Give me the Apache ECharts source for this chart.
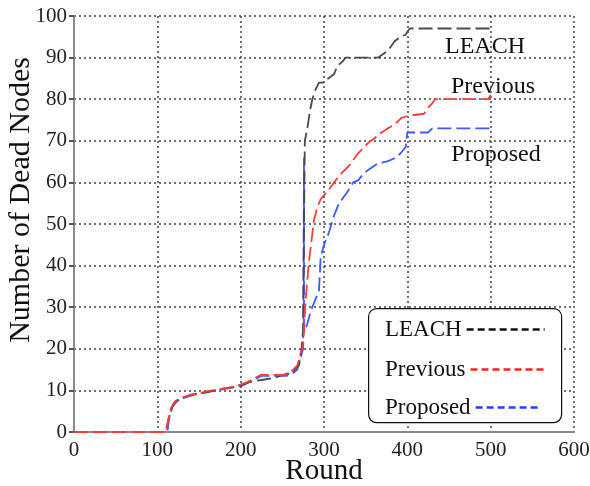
<!DOCTYPE html>
<html><head><meta charset="utf-8">
<script src="https://cdn.jsdelivr.net/npm/echarts@6/dist/echarts.min.js"></script>
<style>html,body{margin:0;padding:0;background:#fff}#c{width:590px;height:486px}</style>
</head><body><div id="c"></div>
<script>
var seriesNames = ['LEACH', 'Previous', 'Proposed'];
var xTicks = [0, 100, 200, 300, 400, 500, 600];
var yTicks = [0, 10, 20, 30, 40, 50, 60, 70, 80, 90, 100];
var leach = [[0,0],[110,0],[112,2],[116,5],[120,7],[128,8],[140,9],[160,9.6],[180,10.5],[200,11],[210,12],[225,12.5],[240,13],[255,14],[262,14],[265,15],[270,16],[273,20],[275,25],[276,50],[277,70],[280,73],[283,77],[286,80],[289,82],[294,84],[300,84],[305,85],[312,86],[316,88],[322,89],[326,90],[365,90],[372,91],[378,92],[385,94],[392,95],[398,95.5],[401,96.5],[403,97],[500,97]];
var previous = [[0,0],[111,0],[113,3],[117,6],[122,7.5],[130,8.3],[143,9],[160,9.8],[185,10.6],[198,11.3],[208,12],[224,13.7],[252,13.7],[258,14],[263,15],[268,16],[272,19],[275,21],[278,32],[282,41],[285,46],[288,51],[292,54],[296,56],[305,58],[312,60],[320,62],[330,64],[341,67],[353,69.5],[360,70.5],[369,72],[377,73],[385,74],[393,75.5],[401,76],[420,76.5],[425,78],[430,79],[433,80],[497,80],[500,81]];
var proposed = [[0,0],[112,0],[114,3],[118,6],[124,7.5],[132,8.2],[145,9],[160,9.6],[185,10.5],[200,11.2],[210,12],[225,13.5],[255,13.5],[262,14],[268,15],[272,18],[275,20],[276,20],[276,66],[276,24],[280,26],[284,29],[290,32],[294,34],[296,42],[300,45],[306,48],[312,52],[318,55],[322,56],[329,58],[335,60],[341,60.5],[347,62],[353,63],[365,64.6],[375,65],[385,65.8],[392,67],[398,68.5],[400,68.5],[400,72],[425,72],[430,73],[500,73]];
var colors = ['#4a4a4a', '#ff3c3c', '#3c5aff'];
var font = 'Liberation Serif';

var chart = echarts.init(document.getElementById('c'), null, {renderer: 'canvas'});
function mkSeries(name, data, color, z) {
  return {name: name, type: 'line', data: data, showSymbol: false, symbol: 'none', z: z,
    lineStyle: {color: color, width: 1.8, type: [14, 5]}, itemStyle: {color: color}};
}
function mkLegend(name, top, iw, lc) {
  return {data: [name], left: 380, top: top, align: 'right', itemWidth: iw, itemHeight: 14, itemGap: 0,
    z: 10, textStyle: {fontFamily: font, fontSize: 23, color: '#111'},
    itemStyle: {opacity: 0},
    lineStyle: {width: 2.5, type: [7, 4], color: lc}};
}
var option = {
  animation: false,
  color: colors,
  grid: {left: 74, right: 16, top: 16, bottom: 54, show: false, outerBoundsMode: 'none', containLabel: false},
  xAxis: [{
    type: 'value', min: 0, max: 600, interval: 100, position: 'bottom',
    name: 'Round', nameLocation: 'middle', nameGap: 25, nameMoveOverlap: false,
    nameTextStyle: {fontFamily: font, fontSize: 29, color: '#111'},
    axisLine: {show: true, lineStyle: {color: '#8a8a8a', width: 2}},
    axisTick: {show: false},
    axisLabel: {fontFamily: font, fontSize: 21, color: '#222', margin: 8},
    splitLine: {show: true, lineStyle: {color: '#444', width: 1.5, type: [2, 3]}}
  }, {
    type: 'value', min: 0, max: 600, interval: 100, position: 'top',
    axisLine: {show: true, lineStyle: {color: '#8a8a8a', width: 2}},
    axisTick: {show: false}, axisLabel: {show: false}, splitLine: {show: false}
  }],
  yAxis: [{
    type: 'value', min: 0, max: 100, interval: 10, position: 'left',
    name: 'Number of Dead Nodes', nameLocation: 'middle', nameGap: 38, nameMoveOverlap: false,
    nameTextStyle: {fontFamily: font, fontSize: 30, color: '#111', padding: [0, 0, 0, 48]},
    axisLine: {show: true, lineStyle: {color: '#8a8a8a', width: 2}},
    axisTick: {show: false},
    axisLabel: {fontFamily: font, fontSize: 21, color: '#222', margin: 7},
    splitLine: {show: true, lineStyle: {color: '#444', width: 1.5, type: [2, 3]}}
  }, {
    type: 'value', min: 0, max: 100, interval: 10, position: 'right',
    axisLine: {show: true, lineStyle: {color: '#8a8a8a', width: 2}},
    axisTick: {show: true, inside: true, length: 5, lineStyle: {color: '#555', width: 2}},
    axisLabel: {show: false}, splitLine: {show: false}
  }],
  legend: [mkLegend('LEACH', 313, 78, '#111'), mkLegend('Previous', 353, 75, '#ff2020'), mkLegend('Proposed', 391, 64, '#2040ff')],
  graphic: [
    {type: 'rect', left: 368, top: 308, shape: {width: 193, height: 114, r: 8},
      style: {fill: '#fff', stroke: '#111', lineWidth: 1.2}, z: 5},
    {type: 'text', x: 485, y: 47, style: {text: 'LEACH', fontFamily: font, fontSize: 24, fill: '#111', textAlign: 'center', textVerticalAlign: 'middle'}},
    {type: 'text', x: 493, y: 87, style: {text: 'Previous', fontFamily: font, fontSize: 24, fill: '#111', textAlign: 'center', textVerticalAlign: 'middle'}},
    {type: 'text', x: 496, y: 155, style: {text: 'Proposed', fontFamily: font, fontSize: 24, fill: '#111', textAlign: 'center', textVerticalAlign: 'middle'}}
  ],
  series: [
    mkSeries(seriesNames[0], leach, colors[0], 3),
    mkSeries(seriesNames[1], previous, colors[1], 4),
    mkSeries(seriesNames[2], proposed, colors[2], 2)
  ]
};
chart.setOption(option);
</script></body></html>
